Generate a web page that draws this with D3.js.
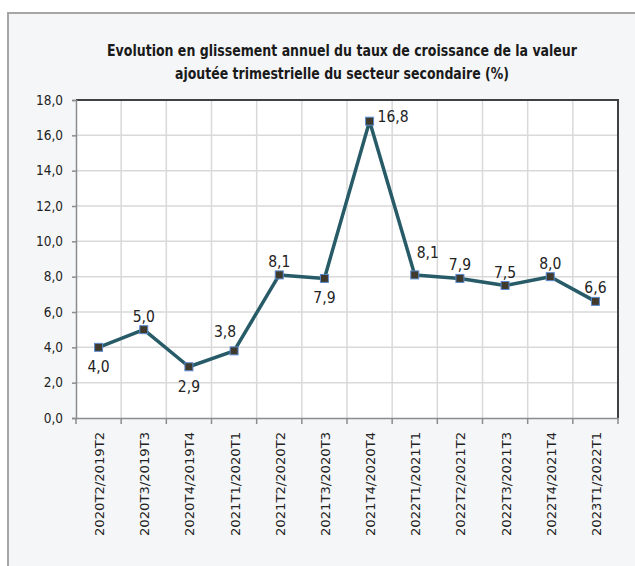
<!DOCTYPE html>
<html><head><meta charset="utf-8">
<script src="https://cdn.jsdelivr.net/npm/d3@7"></script>
<style>
html,body{margin:0;padding:0;background:#fff;}
svg{display:block;}
</style></head>
<body>
<svg id="chart" width="635" height="566"></svg>
<script>
const categories = ["2020T2/2019T2","2020T3/2019T3","2020T4/2019T4","2021T1/2020T1","2021T2/2020T2","2021T3/2020T3","2021T4/2020T4","2022T1/2021T1","2022T2/2021T2","2022T3/2021T3","2022T4/2021T4","2023T1/2022T1"];
const values = [4.0, 5.0, 2.9, 3.8, 8.1, 7.9, 16.8, 8.1, 7.9, 7.5, 8.0, 6.6];
const labelPlacement = ["below","above","below","aboveLeft","above","below","right","aboveRight","above","above","above","above"];
const yTicks = [0,2,4,6,8,10,12,14,16,18];
const titleLines = ["Evolution en glissement annuel du taux de croissance de la valeur","ajoutée trimestrielle du secteur secondaire (%)"];

const svg = d3.select("#chart");
const condensed = "'Liberation Sans Narrow','DejaVu Sans Condensed','Roboto Condensed','Open Sans',sans-serif";

// frame
svg.append("rect").attr("x",8).attr("y",13).attr("width",640).attr("height",570)
  .attr("fill","#f5f6f8").attr("stroke","#a6a6a6").attr("stroke-width",2);

const m = {left:76, top:100, right:618, bottom:418};
const x = d3.scaleBand().domain(categories).range([m.left,m.right]);
const y = d3.scaleLinear().domain([0,18]).range([m.bottom,m.top]);

svg.append("rect").attr("x",m.left).attr("y",m.top).attr("width",m.right-m.left).attr("height",m.bottom-m.top).attr("fill","#fff");

// gridlines
const g = svg.append("g");
g.selectAll("line.h").data(yTicks.slice(1)).join("line")
  .attr("x1",m.left).attr("x2",m.right).attr("y1",d=>y(d)).attr("y2",d=>y(d))
  .attr("stroke","#d9d9d9").attr("stroke-width",1.5);
g.selectAll("line.v").data(categories.slice(1)).join("line")
  .attr("x1",d=>x(d)).attr("x2",d=>x(d)).attr("y1",m.top).attr("y2",m.bottom)
  .attr("stroke","#d9d9d9").attr("stroke-width",1.5);

// top & right border
svg.append("path").attr("d",`M${m.left},${m.top}H${m.right}V${m.bottom}`).attr("fill","none")
  .attr("stroke","#404040").attr("stroke-width",2);

// y axis
const yAxis = svg.append("g").attr("transform",`translate(${m.left},0)`)
  .call(d3.axisLeft(y).tickValues(yTicks).tickSize(4).tickPadding(9).tickFormat(d=>d3.format(".1f")(d).replace(".",",")));
yAxis.select(".domain").attr("stroke","#8c8c8c").attr("stroke-width",1.5);
yAxis.selectAll(".tick line").attr("stroke","#8c8c8c").attr("stroke-width",1.5);
yAxis.selectAll(".tick text").attr("font-family",condensed).attr("font-size",13.5).attr("fill","#222");

// x axis
const xAxis = svg.append("g").attr("transform",`translate(0,${m.bottom})`)
  .call(d3.axisBottom(x).tickSize(0).tickFormat(""));
xAxis.select(".domain").attr("stroke","#8c8c8c").attr("stroke-width",1.5);
xAxis.selectAll(".tick").remove();
const xt = svg.append("g");
xt.selectAll("line").data(categories.map((c,i)=>i).concat([categories.length])).join("line")
  .attr("x1",i=>i<categories.length? x(categories[i]) : m.right)
  .attr("x2",i=>i<categories.length? x(categories[i]) : m.right)
  .attr("y1",m.bottom).attr("y2",m.bottom+6).attr("stroke","#8c8c8c").attr("stroke-width",1.5);
xt.selectAll("text").data(categories).join("text")
  .attr("transform",d=>`translate(${x(d)+x.bandwidth()/2+1},432) rotate(-90)`)
  .attr("text-anchor","end").attr("dominant-baseline","central")
  .attr("font-family","'DejaVu Sans',sans-serif").attr("font-size",12.5).attr("fill","#222")
  .attr("textLength",104).attr("lengthAdjust","spacingAndGlyphs")
  .text(d=>d);

// line
const cx = (d,i)=>x(categories[i])+x.bandwidth()/2;
svg.append("path").datum(values)
  .attr("d",d3.line().x((d,i)=>cx(d,i)).y(d=>y(d)))
  .attr("fill","none").attr("stroke","#275b67").attr("stroke-width",3.5).attr("stroke-linejoin","round");

svg.selectAll("rect.mk").data(values).join("rect").attr("class","mk")
  .attr("x",(d,i)=>cx(d,i)-4).attr("y",d=>y(d)-4).attr("width",8).attr("height",8)
  .attr("fill","#3f3a2c").attr("stroke","#5b8bd0").attr("stroke-width",1);

// data labels
const off = {below:[0,25,"middle"],above:[0,-8,"middle"],aboveLeft:[-9,-14,"middle"],aboveRight:[2,-17,"start"],right:[8,1,"start"]};
svg.selectAll("text.lbl").data(values).join("text").attr("class","lbl")
  .attr("x",(d,i)=>cx(d,i)+off[labelPlacement[i]][0])
  .attr("y",(d,i)=>y(d)+off[labelPlacement[i]][1])
  .attr("text-anchor",(d,i)=>off[labelPlacement[i]][2])
  .attr("font-family",condensed).attr("font-size",15.5).attr("fill","#222")
  .text(d=>d3.format(".1f")(d).replace(".",","));

// title
svg.selectAll("text.title").data(titleLines).join("text").attr("class","title")
  .attr("x",342).attr("y",(d,i)=>56+i*23).attr("text-anchor","middle")
  .attr("font-family",condensed).attr("font-weight","bold").attr("font-size",15).attr("fill","#1a1a1a")
  .attr("textLength",(d,i)=>[470,334][i]).attr("lengthAdjust","spacingAndGlyphs")
  .text(d=>d);
</script>
</body></html>
